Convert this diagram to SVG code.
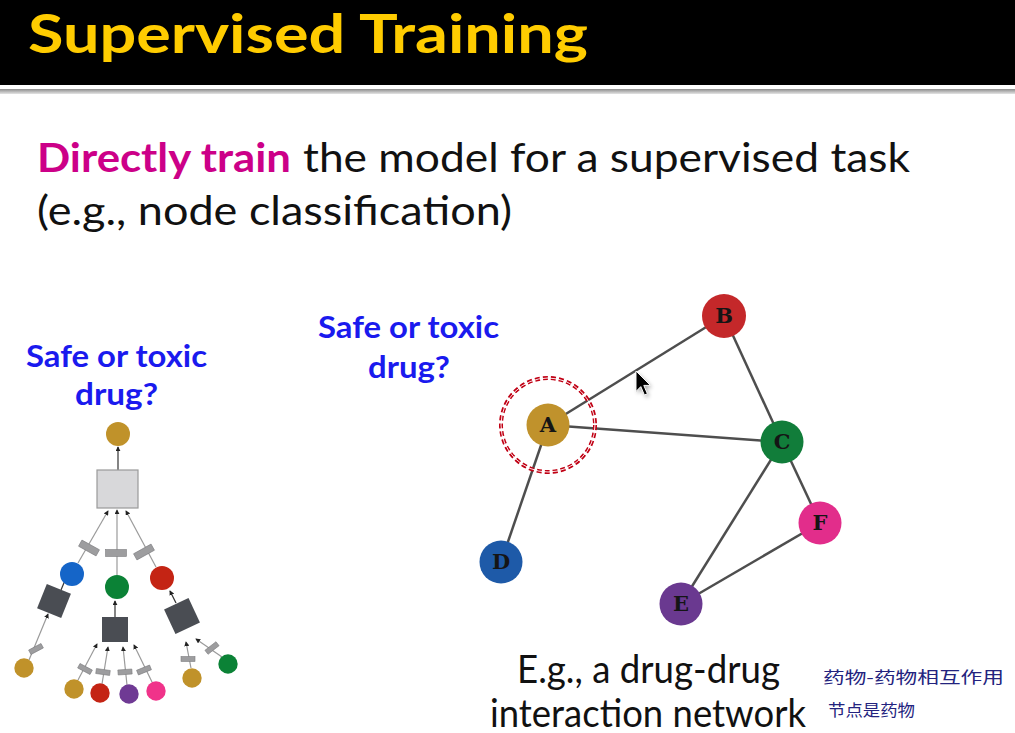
<svg xmlns="http://www.w3.org/2000/svg" width="1015" height="733" viewBox="0 0 1015 733">
  <defs>
    <linearGradient id="rule" x1="0" y1="0" x2="0" y2="1">
      <stop offset="0" stop-color="#8c8c8c"/>
      <stop offset="1" stop-color="#e4e4e4"/>
    </linearGradient>
    <marker id="tip" viewBox="0 0 6 6" refX="5" refY="3" markerWidth="5" markerHeight="5" markerUnits="userSpaceOnUse" orient="auto">
      <path d="M0,0 L6,3 L0,6 z" fill="#222"/>
    </marker>
    <filter id="soft" x="-50%" y="-50%" width="200%" height="200%">
      <feGaussianBlur stdDeviation="1.6"/>
    </filter>
  </defs>
  <style>
    .title { font-family: Lato, "Open Sans", "Liberation Sans", sans-serif; font-weight: 700; fill: #ffcc00; }
    .body { font-family: Lato, "Open Sans", "Liberation Sans", sans-serif; fill: #111; }
    .accent { font-weight: 700; fill: #cc0088; }
    .ask { font-family: Lato, "Open Sans", "Liberation Sans", sans-serif; font-weight: 700; fill: #1a1aee; font-size: 30px; }
    .note { font-family: "Noto Sans CJK SC", sans-serif; fill: #23237e; font-size: 16px; }
    .edge { stroke: #4e4e4e; stroke-width: 2.5; fill: none; }
    .lbl { font-family: "DejaVu Serif", "Liberation Serif", serif; font-weight: 700; font-size: 21px; fill: #151515; text-anchor: middle; }
    .tl { stroke: #9a9a9a; stroke-width: 1.2; fill: none; }
    .ta { stroke: #333; stroke-width: 1.2; fill: none; }
    .msg { fill: #9d9d9f; stroke: #7d7d7f; stroke-width: 0.6; }
    .agg { fill: #4a4d53; }
  </style>

  <rect x="0" y="0" width="1015" height="733" fill="#ffffff"/>

  <!-- header band -->
  <rect x="0" y="0" width="1015" height="85" fill="#000"/>
  <rect x="0" y="89" width="1015" height="5" fill="url(#rule)"/>
  <text class="title" x="28" y="53" font-size="53" textLength="560" lengthAdjust="spacingAndGlyphs">Supervised Training</text>

  <!-- body text -->
  <text class="body accent" x="37" y="172" font-size="41" textLength="254" lengthAdjust="spacingAndGlyphs">Directly train</text>
  <text class="body" x="303" y="172" font-size="41" textLength="607" lengthAdjust="spacingAndGlyphs">the model for a supervised task</text>
  <text class="body" x="37" y="225" font-size="41" textLength="475" lengthAdjust="spacingAndGlyphs">(e.g., node classification)</text>

  <text class="ask" x="26" y="367" textLength="181" lengthAdjust="spacingAndGlyphs">Safe or toxic</text>
  <text class="ask" x="75" y="405" textLength="83" lengthAdjust="spacingAndGlyphs">drug?</text>
  <text class="ask" x="318" y="338" textLength="181" lengthAdjust="spacingAndGlyphs">Safe or toxic</text>
  <text class="ask" x="368" y="378" textLength="82" lengthAdjust="spacingAndGlyphs">drug?</text>

  <text class="body" x="517" y="683" font-size="39" textLength="263" lengthAdjust="spacingAndGlyphs">E.g., a drug-drug</text>
  <text class="body" x="490" y="727" font-size="39" textLength="316" lengthAdjust="spacingAndGlyphs">interaction network</text>

  <text class="note" x="823" y="683" textLength="181" lengthAdjust="spacingAndGlyphs">药物-药物相互作用</text>
  <text class="note" x="828" y="716" textLength="87" lengthAdjust="spacingAndGlyphs">节点是药物</text>

  <!-- computation tree -->
  <g id="tree-links">
    <line class="ta" x1="118" y1="470" x2="118" y2="447" marker-end="url(#tip)"/>
    <line class="tl" x1="78" y1="563" x2="108" y2="511" marker-end="url(#tip)"/>
    <line class="tl" x1="117" y1="575" x2="117" y2="510" marker-end="url(#tip)"/>
    <line class="tl" x1="156" y1="567" x2="126" y2="511" marker-end="url(#tip)"/>
    <line class="ta" x1="61" y1="590" x2="66" y2="578" marker-end="url(#tip)"/>
    <line class="ta" x1="115" y1="617" x2="115" y2="601" marker-end="url(#tip)"/>
    <line class="ta" x1="176" y1="603" x2="170" y2="591" marker-end="url(#tip)"/>
    <line class="tl" x1="29" y1="660" x2="48" y2="614" marker-end="url(#tip)"/>
    <line class="tl" x1="78" y1="680" x2="97" y2="644" marker-end="url(#tip)"/>
    <line class="tl" x1="102" y1="684" x2="108" y2="647" marker-end="url(#tip)"/>
    <line class="tl" x1="127" y1="685" x2="123" y2="647" marker-end="url(#tip)"/>
    <line class="tl" x1="152" y1="682" x2="134" y2="645" marker-end="url(#tip)"/>
    <line class="tl" x1="191" y1="668" x2="186" y2="642" marker-end="url(#tip)"/>
    <line class="tl" x1="222" y1="657" x2="196" y2="639" marker-end="url(#tip)"/>
  </g>
  <g id="tree-messages">
    <rect class="msg" x="-10" y="-3.5" width="20" height="7" transform="translate(89 548) rotate(29)"/>
    <rect class="msg" x="-10.5" y="-3.5" width="21" height="7" transform="translate(116 553)"/>
    <rect class="msg" x="-10" y="-3.5" width="20" height="7" transform="translate(144 552) rotate(-29)"/>
    <rect class="msg" x="-7" y="-2.5" width="14" height="5" transform="translate(36 649) rotate(-28)"/>
    <rect class="msg" x="-7" y="-2.5" width="14" height="5" transform="translate(85 669) rotate(28)"/>
    <rect class="msg" x="-7" y="-2.5" width="14" height="5" transform="translate(103 672) rotate(8)"/>
    <rect class="msg" x="-7" y="-2.5" width="14" height="5" transform="translate(125 672) rotate(-4)"/>
    <rect class="msg" x="-7" y="-2.5" width="14" height="5" transform="translate(144 670) rotate(-22)"/>
    <rect class="msg" x="-7" y="-2.5" width="14" height="5" transform="translate(188 659)"/>
    <rect class="msg" x="-7" y="-2.5" width="14" height="5" transform="translate(212 648) rotate(-38)"/>
  </g>
  <g id="tree-root">
    <circle cx="118" cy="434" r="12" fill="#c0922a"/>
    <rect x="97" y="470" width="41" height="38" fill="#d8d8da" stroke="#9a9a9a" stroke-width="1.2"/>
  </g>
  <g id="tree-hop1">
    <circle cx="72" cy="574" r="12" fill="#1565c8"/>
    <circle cx="117" cy="587" r="12" fill="#0b8236"/>
    <circle cx="162" cy="578" r="12" fill="#c42414"/>
    <rect class="agg" x="-13" y="-13" width="26" height="26" transform="translate(54 601) rotate(22)"/>
    <rect class="agg" x="102" y="617" width="26" height="25"/>
    <rect class="agg" x="-13.5" y="-13.5" width="27" height="27" transform="translate(182 616) rotate(-25)"/>
  </g>
  <g id="tree-hop2">
    <circle cx="24" cy="668" r="9.7" fill="#c0922a"/>
    <circle cx="74" cy="689" r="9.7" fill="#c0922a"/>
    <circle cx="100" cy="693" r="9.7" fill="#c42414"/>
    <circle cx="129" cy="694" r="9.7" fill="#6f3a94"/>
    <circle cx="156" cy="691" r="9.7" fill="#f0338a"/>
    <circle cx="192" cy="678" r="9.7" fill="#c0922a"/>
    <circle cx="228" cy="664" r="9.7" fill="#0b8236"/>
  </g>

  <!-- drug interaction graph -->
  <g id="connectors">
    <line class="edge" x1="548" y1="425" x2="724" y2="316"/>
    <line class="edge" x1="548" y1="425" x2="782" y2="442"/>
    <line class="edge" x1="548" y1="425" x2="501" y2="562"/>
    <line class="edge" x1="724" y1="316" x2="782" y2="442"/>
    <line class="edge" x1="782" y1="442" x2="681" y2="604"/>
    <line class="edge" x1="782" y1="442" x2="820" y2="523"/>
    <line class="edge" x1="820" y1="523" x2="681" y2="604"/>
  </g>
  <g id="target-ring">
    <circle cx="548" cy="425" r="47" fill="none" stroke="#c00014" stroke-width="4" stroke-dasharray="5 3"/>
    <circle cx="548" cy="425" r="47" fill="none" stroke="#ffffff" stroke-width="0.9"/>
  </g>
  <g id="node-A"><circle cx="548" cy="425" r="21.5" fill="#c0922c"/><text class="lbl" x="548" y="432">A</text></g>
  <g id="node-B"><circle cx="724" cy="316" r="22" fill="#c4282a"/><text class="lbl" x="724" y="323">B</text></g>
  <g id="node-C"><circle cx="782" cy="442" r="21.5" fill="#117d3a"/><text class="lbl" x="782" y="449">C</text></g>
  <g id="node-D"><circle cx="501" cy="562" r="21.5" fill="#1e5aa8"/><text class="lbl" x="501" y="569">D</text></g>
  <g id="node-E"><circle cx="681" cy="604" r="21.5" fill="#6a3990"/><text class="lbl" x="681" y="611">E</text></g>
  <g id="node-F"><circle cx="820" cy="523" r="21.5" fill="#e22d8b"/><text class="lbl" x="820" y="530">F</text></g>

  <!-- pointer -->
  <g id="pointer" transform="translate(636 371) scale(1.2)">
    <path d="M1.5,2 L1.5,19 L5.5,15 L8.5,22 L11,21 L8,14 L13.5,14 z" fill="#000" opacity="0.35" filter="url(#soft)"/>
    <path d="M0,0 L0,17 L4,13 L7,20 L9.5,19 L6.5,12 L12,12 z" fill="#000" stroke="#fff" stroke-width="0.8"/>
  </g>
</svg>
